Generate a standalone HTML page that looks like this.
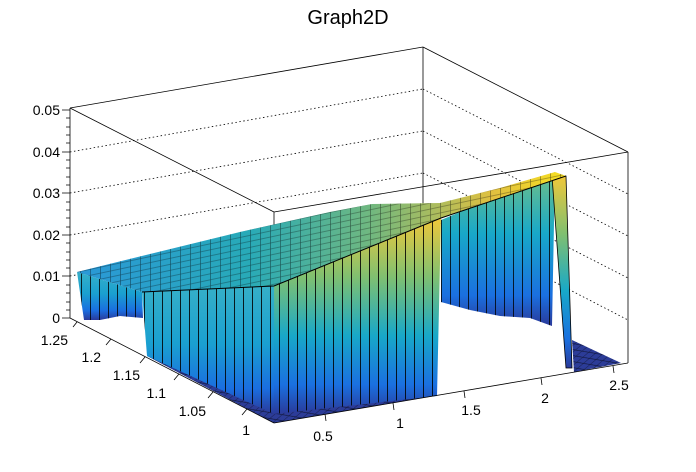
<!DOCTYPE html>
<html><head><meta charset="utf-8"><style>
html,body{margin:0;padding:0;background:#fff;}
svg{display:block;font-family:"Liberation Sans",sans-serif;}
</style></head><body>
<svg width="696" height="472" viewBox="0 0 696 472" xmlns="http://www.w3.org/2000/svg">
<defs>
<linearGradient id="wallF" x1="0" y1="0" x2="0" y2="1">
<stop offset="0" stop-color="#36b0c8"/><stop offset="0.45" stop-color="#1aa0d0"/><stop offset="0.8" stop-color="#1a6ee0"/><stop offset="1" stop-color="#2a3a9a"/></linearGradient>
<linearGradient id="wallR" x1="0" y1="0" x2="0" y2="1">
<stop offset="0" stop-color="#f0c83a"/><stop offset="0.3" stop-color="#80c070"/><stop offset="0.6" stop-color="#18a8c8"/><stop offset="0.85" stop-color="#1a70e0"/><stop offset="1" stop-color="#2a3a9a"/></linearGradient>
<linearGradient id="wallB" x1="0" y1="0" x2="0" y2="1">
<stop offset="0" stop-color="#70c088"/><stop offset="0.4" stop-color="#18a8c8"/><stop offset="0.8" stop-color="#1a70e0"/><stop offset="1" stop-color="#2a3a9a"/></linearGradient>
<linearGradient id="top" x1="0" y1="0" x2="1" y2="0">
<stop offset="0" stop-color="#2a98d8"/><stop offset="0.35" stop-color="#28aab8"/><stop offset="0.6" stop-color="#70b880"/><stop offset="0.85" stop-color="#e0c040"/><stop offset="1" stop-color="#f8e020"/></linearGradient>
<pattern id="vl" width="9" height="20" patternUnits="userSpaceOnUse"><line x1="0.5" y1="0" x2="0.5" y2="20" stroke="#000" stroke-width="1"/></pattern>
<pattern id="mesh" width="10" height="6" patternUnits="userSpaceOnUse" patternTransform="skewY(-12)"><path d="M0 0.5H10M0.5 0V6" stroke="#000" stroke-width="0.6" fill="none" opacity="0.55"/></pattern>
<pattern id="fl" width="8" height="5" patternUnits="userSpaceOnUse" patternTransform="skewX(-50) skewY(8)"><path d="M0 0.5H8M0.5 0V5" stroke="#000" stroke-width="0.6" fill="none" opacity="0.6"/></pattern>
</defs>
<text x="348" y="24" font-size="20" text-anchor="middle">Graph2D</text>
<g stroke="#000" stroke-width="0.8" fill="none">
<line x1="70" y1="108" x2="423" y2="47"/>
<line x1="423" y1="47" x2="628" y2="152"/>
<line x1="423" y1="47" x2="423" y2="256"/>
<line x1="628" y1="152" x2="628" y2="363"/>
<line x1="70" y1="108" x2="274" y2="212"/>
<line x1="274" y1="212" x2="628" y2="152"/>
<line x1="274" y1="212" x2="274" y2="423"/>
</g>
<g stroke="#000" stroke-width="0.8" stroke-dasharray="1.5,2.5" fill="none">
<line x1="70" y1="152" x2="423" y2="89"/><line x1="423" y1="89" x2="628" y2="194"/>
<line x1="70" y1="193" x2="423" y2="131"/><line x1="423" y1="131" x2="628" y2="236"/>
<line x1="70" y1="235" x2="423" y2="173"/><line x1="423" y1="173" x2="628" y2="278"/>
<line x1="70" y1="276" x2="423" y2="214"/><line x1="423" y1="214" x2="628" y2="320"/>
</g>
<polygon points="441,220 555,172 552,326 530,318 500,316 470,310 441,302" fill="url(#wallB)"/>
<polygon points="441,220 555,172 552,326 530,318 500,316 470,310 441,302" fill="url(#vl)" opacity="0.8"/>
<polygon points="572,340 621,363 574,372" fill="#2c3c98"/>
<polygon points="572,340 621,363 574,372" fill="url(#fl)"/>
<polygon points="552,176 566,176 572,368 566,368" fill="url(#wallR)" stroke="#000" stroke-width="0.8"/>
<polygon points="77,272 142,292 143,318 120,316 100,320 84,320" fill="url(#wallF)"/>
<polygon points="77,272 142,292 143,318 120,316 100,320 84,320" fill="url(#vl)" opacity="0.8"/>
<polygon points="147,356 434,396 274,423" fill="#2c3c98"/>
<polygon points="147,356 434,396 274,423" fill="url(#fl)"/>
<polygon points="142,292 274,286 274,414 147,356" fill="url(#wallF)"/>
<polygon points="274,286 441,218 437,396 274,414" fill="url(#wallR)"/>
<polygon points="142,292 274,286 441,218 437,396 274,414 147,356" fill="url(#vl)" opacity="0.85"/>
<polygon points="77,272 150,254 240,232 330,212 372,204 440,203 500,188 555,172 566,176 441,218 274,286 142,292" fill="url(#top)"/>
<polygon points="77,272 150,254 240,232 330,212 372,204 440,203 500,188 555,172 566,176 441,218 274,286 142,292" fill="url(#mesh)"/>
<polyline points="142,292 274,286 441,218 566,176" fill="none" stroke="#000" stroke-width="1"/>
<g stroke="#000" stroke-width="0.8" fill="none">
<line x1="70" y1="108" x2="70" y2="318"/>
<line x1="70" y1="318" x2="274" y2="423"/>
<line x1="274" y1="423" x2="628" y2="363"/>
<path d="M70 110h-8M70 152h-8M70 193h-8M70 235h-8M70 276h-8M70 318h-8"/>
<path d="M70 118h-4M70 127h-4M70 135h-4M70 143h-4M70 160h-4M70 168h-4M70 177h-4M70 185h-4M70 202h-4M70 210h-4M70 218h-4M70 227h-4M70 243h-4M70 252h-4M70 260h-4M70 268h-4M70 285h-4M70 293h-4M70 302h-4M70 310h-4"/>
<path d="M77 322l-4 5M111 339l-5 6M145 357l-5 6M179 374l-5 6M213 392l-5 6M247 409l-5 6"/>
<path d="M325 414l1 7M393 403l1 7M464 391l1 7M541 378l1 7M613 366l1 7"/>
</g>
<g font-size="14" fill="#000">
<g text-anchor="end">
<text x="60" y="115">0.05</text><text x="60" y="157">0.04</text><text x="60" y="198">0.03</text><text x="60" y="240">0.02</text><text x="60" y="281">0.01</text><text x="60" y="323">0</text>
<text x="68" y="345">1.25</text><text x="101" y="362">1.2</text><text x="140" y="380">1.15</text><text x="166" y="398">1.1</text><text x="206" y="416">1.05</text><text x="250" y="435">1</text>
</g>
<g text-anchor="middle">
<text x="323" y="441">0.5</text><text x="400" y="428">1</text><text x="471" y="415">1.5</text><text x="545" y="403">2</text><text x="619" y="390">2.5</text>
</g>
</g>
</svg>
</body></html>
